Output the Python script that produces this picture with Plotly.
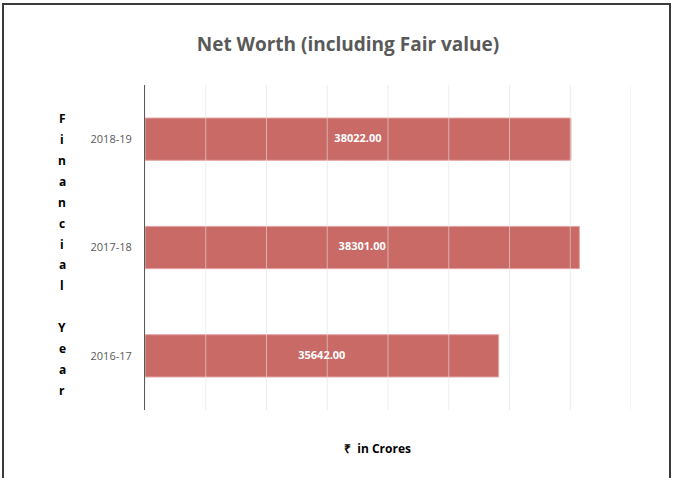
import plotly.graph_objects as go
import numpy as np

# data
years = ["2016-17", "2017-18", "2018-19"]
net_worth = [35642.00, 38301.00, 38022.00]
axis_letters = list("Financial") + [""] + list("Year")
x_min, x_max, x_step = 24000, 40000, 2000

W, H = 673, 478
L, R, T, B = 145, 42, 85, 68
pw, ph = W - L - R, H - T - B

fig = go.Figure()
fig.add_trace(go.Bar(
    y=years,
    x=net_worth,
    orientation="h",
    marker=dict(color="#C96A67", line=dict(color="#E3A3A1", width=1)),
    hoverinfo="skip",
))
# value labels, centred on the visible part of each bar
fig.add_trace(go.Scatter(
    y=years,
    x=[(x_min + v) / 2 for v in net_worth],
    mode="text",
    text=[f"<b>{v:.2f}</b>" for v in net_worth],
    textfont=dict(color="white", size=11, family="Open Sans"),
    hoverinfo="skip",
))

# gridlines drawn above the bars, like the original
shapes = []
for v in range(x_min, x_max + 1, x_step):
    shapes.append(dict(type="line", xref="x", yref="paper", x0=v, x1=v, y0=0, y1=1,
                       line=dict(color="rgba(225,225,225,0.6)", width=1), layer="above"))

# outer frame
shapes.append(dict(type="rect", xref="paper", yref="paper",
                   x0=(3 - L) / pw, x1=(670 - L) / pw,
                   y0=1 - (500 - T) / ph, y1=1 - (4 - T) / ph,
                   line=dict(color="#3a3a3a", width=2), layer="below"))

# stacked letters for the y-axis title
annotations = []
ys = np.linspace(119, 390, len(axis_letters))
for ch, yp in zip(axis_letters, ys):
    if ch:
        annotations.append(dict(text=f"<b>{ch}</b>", xref="paper", yref="paper",
                                x=(62 - L) / pw, y=1 - (yp - T) / ph, showarrow=False,
                                xanchor="center", yanchor="middle",
                                font=dict(size=12, color="black", family="Open Sans")))

annotations.append(dict(text="<b>₹  in Crores</b>", xref="paper", yref="paper",
                        x=(377 - L) / pw, y=1 - (448 - T) / ph, showarrow=False,
                        xanchor="center", yanchor="middle",
                        font=dict(size=12, color="black", family="Open Sans")))

fig.update_layout(
    width=W, height=H,
    margin=dict(l=L, r=R, t=T, b=B),
    paper_bgcolor="white",
    plot_bgcolor="white",
    title=dict(text="<b>Net Worth (including Fair value)</b>", x=348 / W, xanchor="center",
               y=1 - 44 / H, yanchor="middle",
               font=dict(size=19, color="#595959", family="Open Sans")),
    bargap=0.61,
    showlegend=False,
    shapes=shapes,
    annotations=annotations,
    xaxis=dict(range=[x_min, x_max], showgrid=False, showticklabels=False, zeroline=False,
               showline=False, fixedrange=True),
    yaxis=dict(showline=True, linecolor="#595959", linewidth=1, showgrid=False,
               tickfont=dict(size=11, color="#595959", family="Open Sans"),
               ticklabelstandoff=10, fixedrange=True),
)

fig.write_html("out.html", config={"displayModeBar": False},
               post_script="document.body.style.margin='0';")
